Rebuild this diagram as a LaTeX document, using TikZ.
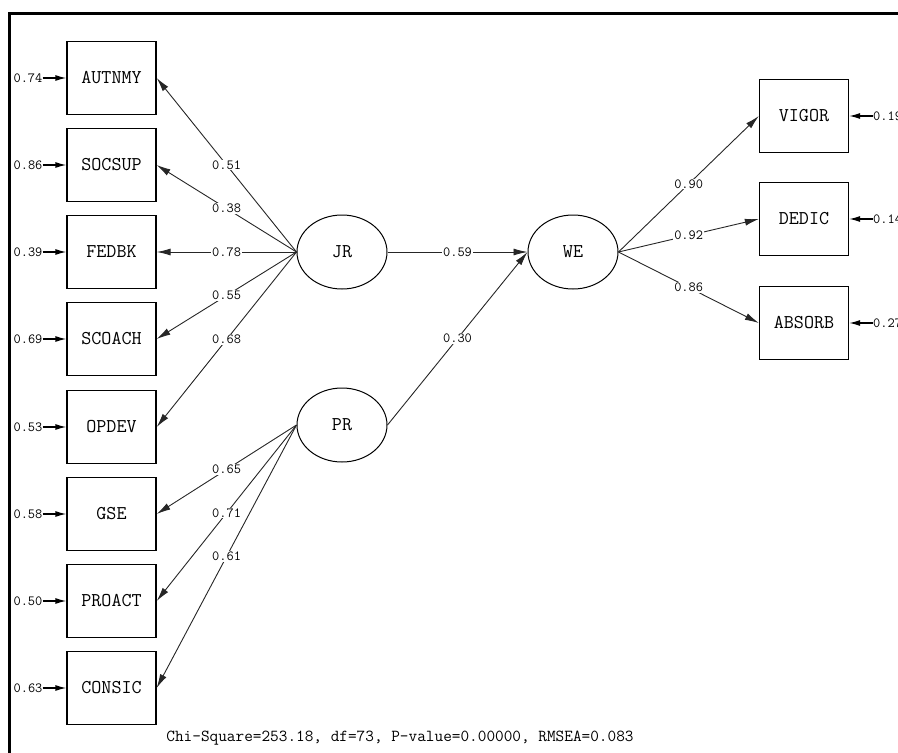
\documentclass[tikz,border=0pt]{standalone}
\usetikzlibrary{shapes.geometric,arrows.meta}
\begin{document}
\begin{tikzpicture}
        [x=1pt,y=-1pt,
        obs/.style={draw=black,line width=1.3pt,minimum width=89pt,minimum height=73pt,inner sep=0pt,font=\fontsize{19.5}{20}\selectfont\ttfamily},
        lat/.style={draw=black,ellipse,line width=1pt,minimum width=90pt,minimum height=74pt,inner sep=0pt,font=\fontsize{19.5}{20}\selectfont\ttfamily},
        err/.style={inner sep=0pt,font=\fontsize{14}{14}\selectfont\ttfamily},
        coef/.style={fill=white,inner sep=1pt,font=\fontsize{14}{14}\selectfont\ttfamily},
        load/.style={draw=black!85,line width=0.9pt,-{Latex[length=14pt,width=7pt]}},
        errload/.style={draw=black,line width=1.3pt,-{Latex[length=11pt,width=6pt]}}]
        \useasboundingbox (0,0) rectangle (898,753);
        % frame
        \draw[line width=3pt] (9.5,753) -- (9.5,13.5) -- (898,13.5);
        % observed, left
        \node[obs] (autnmy) at (111.5,78) {AUTNMY};
        \node[obs] (socsup) at (111.5,165) {SOCSUP};
        \node[obs] (fedbk) at (111.5,252) {FEDBK};
        \node[obs] (scoach) at (111.5,339) {SCOACH};
        \node[obs] (opdev) at (111.5,427) {OPDEV};
        \node[obs] (gse) at (111.5,514) {GSE};
        \node[obs] (proact) at (111.5,601) {PROACT};
        \node[obs] (consic) at (111.5,688) {CONSIC};
        % observed, right
        \node[obs] (vigor) at (804,116) {VIGOR};
        \node[obs] (dedic) at (804,219) {DEDIC};
        \node[obs] (absorb) at (804,323) {ABSORB};
        % latent
        \node[lat] (jr) at (342,252) {JR};
        \node[lat] (pr) at (342,425) {PR};
        \node[lat] (we) at (573,252) {WE};
        % error terms
        \node[err] (e-autnmy) at (28,78) {0.74};
        \node[err] (e-socsup) at (28,165) {0.86};
        \node[err] (e-fedbk) at (28,252) {0.39};
        \node[err] (e-scoach) at (28,339) {0.69};
        \node[err] (e-opdev) at (28,427) {0.53};
        \node[err] (e-gse) at (28,514) {0.58};
        \node[err] (e-proact) at (28,601) {0.50};
        \node[err] (e-consic) at (28,688) {0.63};
        \node[err,anchor=west] (e-vigor) at (873,116) {0.19};
        \node[err,anchor=west] (e-dedic) at (873,219) {0.14};
        \node[err,anchor=west] (e-absorb) at (873,323) {0.27};
        \draw[errload] (e-autnmy) -- (autnmy);
        \draw[errload] (e-socsup) -- (socsup);
        \draw[errload] (e-fedbk) -- (fedbk);
        \draw[errload] (e-scoach) -- (scoach);
        \draw[errload] (e-opdev) -- (opdev);
        \draw[errload] (e-gse) -- (gse);
        \draw[errload] (e-proact) -- (proact);
        \draw[errload] (e-consic) -- (consic);
        \draw[errload] (e-vigor) -- (vigor);
        \draw[errload] (e-dedic) -- (dedic);
        \draw[errload] (e-absorb) -- (absorb);
        % loadings
        \draw[load] (jr.west) -- node[coef] (c-autnmy) {0.51} (autnmy.east);
        \draw[load] (jr.west) -- node[coef] (c-socsup) {0.38} (socsup.east);
        \draw[load] (jr.west) -- node[coef] (c-fedbk) {0.78} (fedbk.east);
        \draw[load] (jr.west) -- node[coef] (c-scoach) {0.55} (scoach.east);
        \draw[load] (jr.west) -- node[coef] (c-opdev) {0.68} (opdev.east);
        \draw[load] (pr.west) -- node[coef] (c-gse) {0.65} (gse.east);
        \draw[load] (pr.west) -- node[coef] (c-proact) {0.71} (proact.east);
        \draw[load] (pr.west) -- node[coef] (c-consic) {0.61} (consic.east);
        \draw[load] (we.east) -- node[coef] (c-vigor) {0.90} (vigor.west);
        \draw[load] (we.east) -- node[coef] (c-dedic) {0.92} (dedic.west);
        \draw[load] (we.east) -- node[coef] (c-absorb) {0.86} (absorb.west);
        % structural paths
        \draw[load] (jr.east) -- node[coef] (c-jrwe) {0.59} (we.west);
        \draw[load] (pr.east) -- node[coef] (c-prwe) {0.30} (we.west);
        % fit
        \node[font=\fontsize{16.8}{17}\selectfont\ttfamily] (fit) at (400,738) {Chi-Square=253.18, df=73, P-value=0.00000, RMSEA=0.083};
      \end{tikzpicture}
\end{document}
